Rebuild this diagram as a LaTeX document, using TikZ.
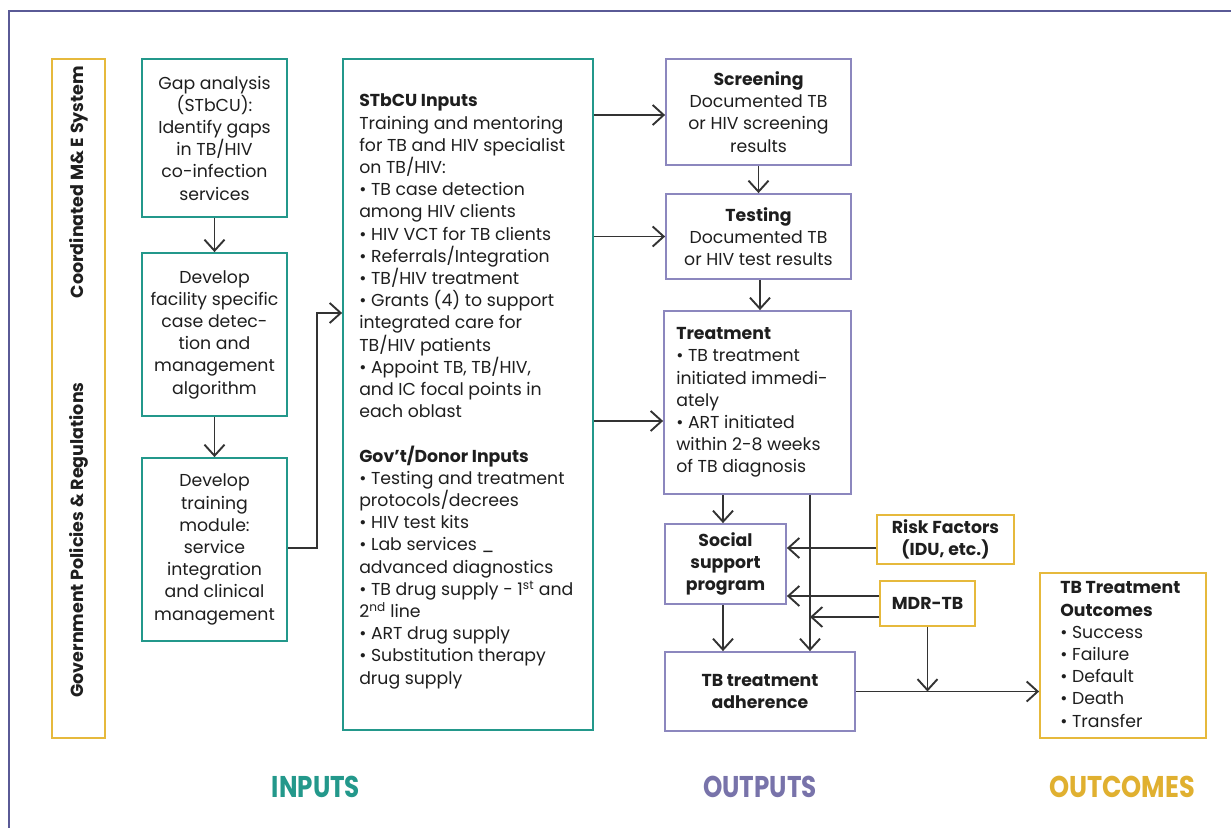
\documentclass[tikz,border=0pt]{standalone}
\usepackage{fontspec}
\setmainfont{Poppins}
\usetikzlibrary{arrows.meta}
\definecolor{teal1}{HTML}{23988B}
\definecolor{purp1}{HTML}{8C87BE}
\definecolor{purptxt}{HTML}{7873AA}
\definecolor{gold1}{HTML}{E6B93C}
\definecolor{goldtxt}{HTML}{E0B030}
\definecolor{frame1}{HTML}{5A5A96}
\definecolor{arrc}{HTML}{333333}
\definecolor{txt}{HTML}{1E1E1E}
\begin{document}
\begin{tikzpicture}[x=1pt,y=-1pt,
  every node/.style={font=\fontsize{17.3}{22.2}\selectfont, text=txt},
  sz/.style 2 args={minimum width=#1pt, minimum height=#2pt},
  tbox/.style={draw=teal1, line width=1.8pt, inner sep=1pt, align=center},
  pbox/.style={draw=purp1, line width=1.8pt, inner sep=1pt, align=center},
  ybox/.style={draw=gold1, line width=1.8pt, inner sep=1pt, align=center},
  ltext/.style={anchor=west, align=left, inner sep=0pt},
  boldtext/.style={font=\fontsize{17.3}{22.2}\selectfont\bfseries},
  sidelbl/.style={rotate=90, font=\fontsize{17.5}{20}\selectfont\bfseries},
  biglbl/.style={xscale=0.82, font=\fontsize{30}{34}\selectfont\bfseries},
  arr/.style={draw=arrc, line width=1.9pt, -{Straight Barb[length=11pt,width=20pt]}},
  frameline/.style={draw=frame1, line width=2.5pt},
]
\useasboundingbox (0,0) rectangle (1231,827);
\draw[frameline] (1232,11) -- (9,11) -- (9,828);

% side box
\node[ybox, sz={53}{679}] (policy) at (78.5,398.5) {};
\node[sidelbl] (melbl) at (78.5,182) {Coordinated M\& E System};
\node[sidelbl] (govlbl) at (78.5,540) {Government Policies \& Regulations};

% left column
\node[tbox, sz={145}{158}] (gap) at (214.5,138) {Gap analysis\\(STbCU):\\Identify gaps\\in TB/HIV\\co-infection\\services};
\node[tbox, sz={145}{163}] (facility) at (214.5,334.5) {Develop\\facility specific\\case detec-\\tion and\\management\\algorithm};
\node[tbox, sz={145}{183}] (training) at (214.5,549.5) {Develop\\training\\module:\\service\\integration\\and clinical\\management};

% big inputs box
\node[tbox, sz={250}{671}] (big) at (468,394.5) {};
\node[ltext] (bigtxt) at ([xshift=17pt,yshift=3pt]big.west) {\textbf{STbCU Inputs}\\
Training and mentoring\\
for TB and HIV specialist\\
on TB/HIV:\\
• TB case detection\\
among HIV clients\\
• HIV VCT for TB clients\\
• Referrals/Integration\\
• TB/HIV treatment\\
• Grants (4) to support\\
integrated care for\\
TB/HIV patients\\
• Appoint TB, TB/HIV,\\
and IC focal points in\\
each oblast\\[22.2pt]
\textbf{Gov’t/Donor Inputs}\\
• Testing and treatment\\
protocols/decrees\\
• HIV test kits\\
• Lab services \_\\
advanced diagnostics\\
• TB drug supply - 1\textsuperscript{st} and\\
2\textsuperscript{nd} line\\
• ART drug supply\\
• Substitution therapy\\
drug supply};

% outputs
\node[pbox, sz={185}{106}] (screening) at (758.5,112) {\textbf{Screening}\\Documented TB\\or HIV screening\\results};
\node[pbox, sz={185}{85}] (testing) at (758.5,236.5) {\textbf{Testing}\\Documented TB\\or HIV test results};
\node[pbox, sz={187}{183}] (treatment) at (757.5,402.5) {};
\node[ltext] (treattxt) at ([xshift=13pt]treatment.west) {\textbf{Treatment}\\
• TB treatment\\
initiated immedi-\\
ately\\
• ART initiated\\
within 2-8 weeks\\
of TB diagnosis};
\node[pbox, sz={121}{80}, boldtext] (social) at (725.5,564) {Social\\support\\program};
\node[pbox, sz={190}{79}, boldtext] (adherence) at (760,691.5) {TB treatment\\adherence};

% factors
\node[ybox, sz={137}{49}, boldtext] (risk) at (945.5,539.5) {Risk Factors\\(IDU, etc.)};
\node[ybox, sz={95}{45}, boldtext] (mdr) at (927.5,603.5) {MDR-TB};

% outcomes
\node[ybox, sz={166}{165}] (outcomes) at (1123,655.5) {};
\node[ltext] (outtxt) at ([xshift=21pt,yshift=1pt]outcomes.west) {\textbf{TB Treatment}\\
\textbf{Outcomes}\\
• Success\\
• Failure\\
• Default\\
• Death\\
• Transfer};

% bottom labels
\node[biglbl, text=teal1] (inputslbl) at (316,787) {INPUTS};
\node[biglbl, text=purptxt] (outputslbl) at (760,787) {OUTPUTS};
\node[biglbl, xscale=1.04, text=goldtxt] (outcomeslbl) at (1122,787) {OUTCOMES};

% connectors left
\draw[arr] (gap) -- (facility);
\draw[arr] (facility) -- (training);
\draw[arr] ([yshift=1.5pt]training.east) -- ++(29,0) |- ([yshift=81.5pt]big.west);

% big to outputs
\draw[arr] ([yshift=-3pt]big.east |- screening.west) -- ([yshift=-3pt]screening.west);
\draw[arr] (big.east |- testing.west) -- (testing.west);
\coordinate (trin) at ([yshift=-18.5pt]treatment.west);
\draw[arr] (big.east |- trin) -- (trin);

% outputs chain
\draw[arr] (screening) -- (testing);
\draw[arr] ([xshift=1.5pt]testing.south) -- ([xshift=1.5pt]testing.south |- treatment.north);
\coordinate (soctop) at ([xshift=-2.5pt]social.north);
\draw[arr] (treatment.south -| soctop) -- (soctop);
\coordinate (socbot) at ([xshift=-2.5pt]social.south);
\draw[arr] (socbot) -- (socbot |- adherence.north);
\coordinate (trdown) at ([xshift=52.5pt]treatment.south);
\draw[arr] (trdown) -- (trdown |- adherence.north);

% factors
\coordinate (riskout) at ([yshift=-8.5pt]risk.west);
\draw[arr] (riskout) -- (social.east |- riskout);
\coordinate (mdrout1) at ([yshift=7.5pt]mdr.west);
\draw[arr] (mdrout1) -- (social.east |- mdrout1);
\coordinate (mdrout2) at ([yshift=-13.5pt]mdr.west);
\draw[arr] (mdrout2) -- (trdown |- mdrout2);
\draw[arr] (mdr.south) -- (mdr.south |- adherence.east);

% adherence to outcomes
\draw[arr] (adherence.east) -- (adherence.east -| outcomes.west);
\end{tikzpicture}
\end{document}
